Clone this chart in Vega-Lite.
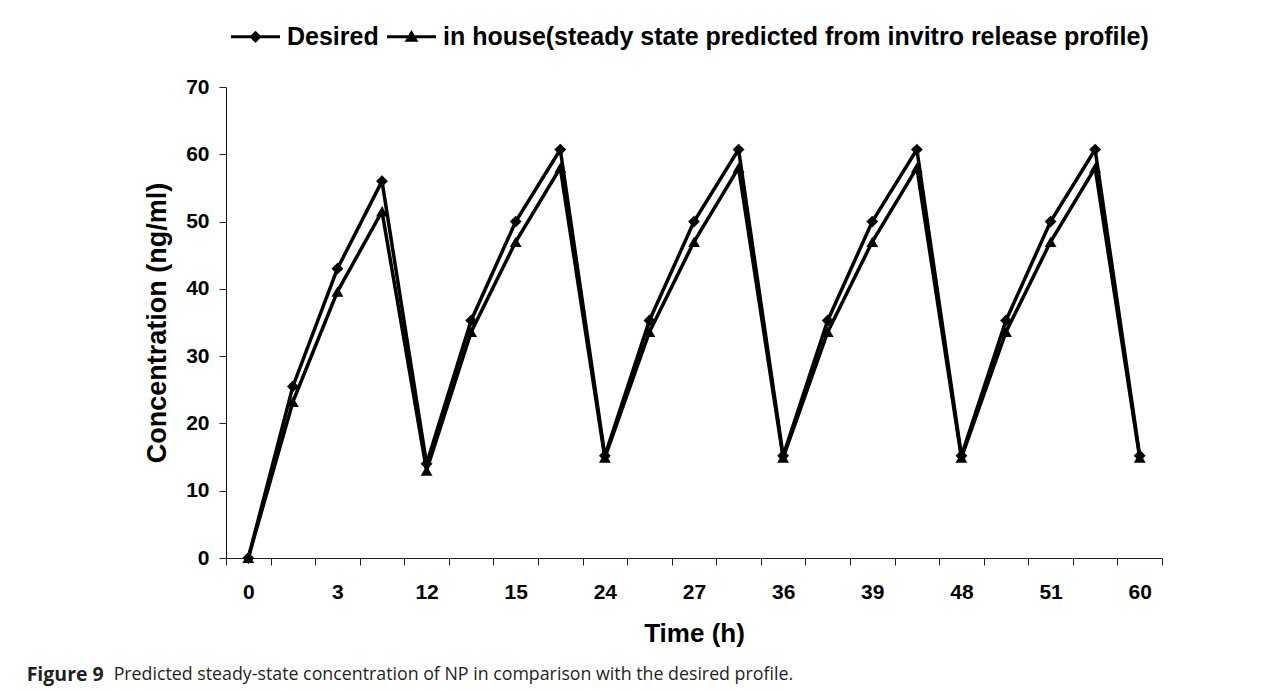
{
  "$schema": "https://vega.github.io/schema/vega-lite/v6.json",
  "background": "white",
  "padding": {"left": 26, "top": 11, "right": 10, "bottom": 4},
  "title": {
    "text": "Predicted steady-state concentration of NP in comparison with the desired profile.",
    "orient": "bottom", "anchor": "start", "frame": "bounds",
    "font": "Open Sans", "fontSize": 17.8, "fontWeight": "normal", "color": "#231f20",
    "offset": 0, "dx": 87, "dy": -19
  },
  "vconcat": [
    {
      "width": 936,
      "height": 471,
      "title": {
        "text": "Figure 9",
        "orient": "bottom", "anchor": "start", "frame": "bounds",
        "font": "Open Sans", "fontSize": 19.5, "fontWeight": "bold", "color": "#231f20",
        "offset": 20, "dx": -117
      },
      "data": {
        "values": [
          {"t": 0, "series": "Desired", "v": 0},
          {"t": 1, "series": "Desired", "v": 25.5},
          {"t": 3, "series": "Desired", "v": 43},
          {"t": 6, "series": "Desired", "v": 56},
          {"t": 12, "series": "Desired", "v": 14},
          {"t": 13, "series": "Desired", "v": 35.3},
          {"t": 15, "series": "Desired", "v": 50},
          {"t": 18, "series": "Desired", "v": 60.7},
          {"t": 24, "series": "Desired", "v": 15.2},
          {"t": 25, "series": "Desired", "v": 35.3},
          {"t": 27, "series": "Desired", "v": 50},
          {"t": 30, "series": "Desired", "v": 60.7},
          {"t": 36, "series": "Desired", "v": 15.2},
          {"t": 37, "series": "Desired", "v": 35.3},
          {"t": 39, "series": "Desired", "v": 50},
          {"t": 42, "series": "Desired", "v": 60.7},
          {"t": 48, "series": "Desired", "v": 15.2},
          {"t": 49, "series": "Desired", "v": 35.3},
          {"t": 51, "series": "Desired", "v": 50},
          {"t": 54, "series": "Desired", "v": 60.7},
          {"t": 60, "series": "Desired", "v": 15.2},
          {"t": 0, "series": "in house(steady state predicted from invitro release profile)", "v": 0},
          {"t": 1, "series": "in house(steady state predicted from invitro release profile)", "v": 23.2},
          {"t": 3, "series": "in house(steady state predicted from invitro release profile)", "v": 39.6},
          {"t": 6, "series": "in house(steady state predicted from invitro release profile)", "v": 51.5},
          {"t": 12, "series": "in house(steady state predicted from invitro release profile)", "v": 13},
          {"t": 13, "series": "in house(steady state predicted from invitro release profile)", "v": 33.6},
          {"t": 15, "series": "in house(steady state predicted from invitro release profile)", "v": 47},
          {"t": 18, "series": "in house(steady state predicted from invitro release profile)", "v": 58},
          {"t": 24, "series": "in house(steady state predicted from invitro release profile)", "v": 14.9},
          {"t": 25, "series": "in house(steady state predicted from invitro release profile)", "v": 33.6},
          {"t": 27, "series": "in house(steady state predicted from invitro release profile)", "v": 47},
          {"t": 30, "series": "in house(steady state predicted from invitro release profile)", "v": 58},
          {"t": 36, "series": "in house(steady state predicted from invitro release profile)", "v": 14.9},
          {"t": 37, "series": "in house(steady state predicted from invitro release profile)", "v": 33.6},
          {"t": 39, "series": "in house(steady state predicted from invitro release profile)", "v": 47},
          {"t": 42, "series": "in house(steady state predicted from invitro release profile)", "v": 58},
          {"t": 48, "series": "in house(steady state predicted from invitro release profile)", "v": 14.9},
          {"t": 49, "series": "in house(steady state predicted from invitro release profile)", "v": 33.6},
          {"t": 51, "series": "in house(steady state predicted from invitro release profile)", "v": 47},
          {"t": 54, "series": "in house(steady state predicted from invitro release profile)", "v": 58},
          {"t": 60, "series": "in house(steady state predicted from invitro release profile)", "v": 14.9}
        ]
      },
      "encoding": {
        "x": {
          "field": "t", "type": "ordinal", "bandPosition": 0.5,
          "scale": {"type": "band", "paddingInner": 0, "paddingOuter": 0},
          "title": "Time (h)",
          "axis": {
            "labelExpr": "indexof(['0','3','12','15','24','27','36','39','48','51','60'], datum.label) >= 0 ? datum.label : ''",
            "labelAngle": 0, "labelOverlap": false, "labelBound": false,
            "labelFont": "Liberation Sans", "labelFontWeight": "bold", "labelFontSize": 21, "labelColor": "black",
            "labelPadding": 16,
            "tickBand": "extent", "tickSize": 7, "tickColor": "#222", "tickWidth": 1,
            "domainColor": "#222", "domainWidth": 1,
            "titleFont": "Liberation Sans", "titleFontWeight": "bold", "titleFontSize": 26, "titleColor": "black",
            "titlePadding": 18, "grid": false
          }
        },
        "y": {
          "field": "v", "type": "quantitative",
          "scale": {"domain": [0, 70], "nice": false},
          "title": "Concentration (ng/ml)",
          "axis": {
            "values": [0, 10, 20, 30, 40, 50, 60, 70],
            "labelFont": "Liberation Sans", "labelFontWeight": "bold", "labelFontSize": 21, "labelColor": "black",
            "labelPadding": 10,
            "tickSize": 7, "tickColor": "#222", "tickWidth": 1,
            "domainColor": "#111", "domainWidth": 1,
            "titleFont": "Liberation Sans", "titleFontWeight": "bold", "titleFontSize": 27, "titleColor": "black",
            "titlePadding": 14, "grid": false
          }
        }
      },
      "layer": [
        {
          "mark": {"type": "line", "color": "black", "strokeWidth": 3.5},
          "encoding": {"detail": {"field": "series", "type": "nominal"}}
        },
        {
          "mark": {"type": "point", "filled": true, "color": "black", "size": 140, "opacity": 1},
          "encoding": {
            "shape": {
              "field": "series", "type": "nominal",
              "scale": {
                "domain": ["Desired", "in house(steady state predicted from invitro release profile)"],
                "range": ["diamond", "triangle-up"]
              },
              "legend": null
            }
          }
        },
        {
          "mark": {"type": "point", "filled": true, "color": "black", "opacity": 0},
          "encoding": {
            "shape": {
              "field": "series", "type": "nominal",
              "scale": {
                "domain": ["Desired", "in house(steady state predicted from invitro release profile)"],
                "range": [
                  "M-1,-0.065L1,-0.065L1,0.065L-1,0.065ZM0,-0.25L0.25,0L0,0.25L-0.25,0Z",
                  "M-1,-0.065L1,-0.065L1,0.065L-1,0.065ZM0,-0.28L0.28,0.2L-0.28,0.2Z"
                ]
              },
              "legend": {
                "title": null,
                "orient": "none", "legendX": 4, "legendY": -76,
                "direction": "horizontal", "padding": 0,
                "symbolSize": 2401, "symbolOpacity": 1,
                "labelFont": "Liberation Sans", "labelFontWeight": "bold", "labelFontSize": 25, "labelColor": "black",
                "labelLimit": 0, "labelOffset": 6, "columnPadding": 5
              }
            }
          }
        }
      ],
      "resolve": {"scale": {"shape": "independent"}}
    }
  ],
  "config": {"view": {"stroke": null}}
}
